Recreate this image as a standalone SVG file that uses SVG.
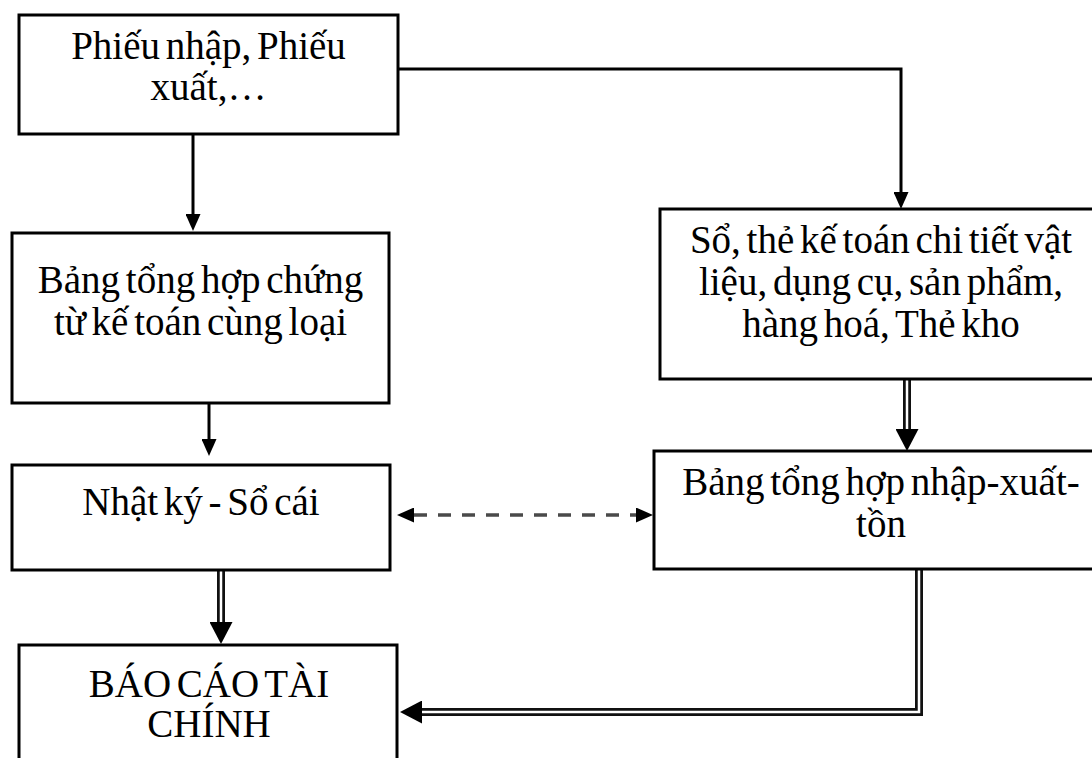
<svg xmlns="http://www.w3.org/2000/svg" width="1092" height="758" viewBox="0 0 1092 758">
  <style>
    .box { fill: #fff; stroke: #000; stroke-width: 3; }
    .lbl { font-family: "Liberation Serif", "Times New Roman", serif; font-size: 39px; word-spacing: -4px; fill: #000; text-anchor: middle; }
    .line { fill: none; stroke: #000; stroke-width: 3; }
    .dash { fill: none; stroke: #4a4a4a; stroke-width: 3.5; stroke-dasharray: 13 11; }
    .dbl-out { fill: none; stroke: #111; stroke-width: 8; stroke-linejoin: miter; }
    .dbl-in { fill: none; stroke: #fff; stroke-width: 2.5; stroke-linejoin: miter; }
  </style>
  <defs>
    <marker id="arr" markerUnits="userSpaceOnUse" markerWidth="17" markerHeight="15" refX="0" refY="7.5" orient="auto-start-reverse">
      <path d="M0,0 L17,7.5 L0,15 z" fill="#000"/>
    </marker>
    <marker id="arrBig" markerUnits="userSpaceOnUse" markerWidth="22" markerHeight="23" refX="0" refY="11.5" orient="auto">
      <path d="M0,0 L22,11.5 L0,23 z" fill="#000"/>
    </marker>
  </defs>

  <!-- connectors -->
  <g id="connectors">
    <!-- source documents to summary table -->
    <path class="line" d="M193,134 V214" marker-end="url(#arr)"/>
    <!-- source documents to detail ledgers -->
    <path class="line" d="M398,69 H901 V192" marker-end="url(#arr)"/>
    <!-- summary table to journal ledger -->
    <path class="line" d="M209,403 V439" marker-end="url(#arr)"/>
    <!-- reconciliation between journal ledger and stock summary -->
    <path class="dash" d="M414,515 H636" marker-start="url(#arr)" marker-end="url(#arr)"/>
    <!-- journal ledger to financial report (double line) -->
    <path class="dbl-out" d="M221,570 V622" marker-end="url(#arrBig)"/>
    <path class="dbl-in" d="M221,570 V622"/>
    <!-- detail ledgers to stock summary (double line) -->
    <path class="dbl-out" d="M907,379 V429" marker-end="url(#arrBig)"/>
    <path class="dbl-in" d="M907,379 V429"/>
    <!-- stock summary to financial report (double line) -->
    <path class="dbl-out" d="M919,569 V712 H422" marker-end="url(#arrBig)"/>
    <path class="dbl-in" d="M919,569 V712 H422"/>
  </g>

  <g id="phieu">
    <rect class="box" x="19" y="15" width="379" height="119"/>
    <text class="lbl" x="208.5" y="59">Phiếu nhập, Phiếu</text>
    <text class="lbl" x="208.5" y="100">xuất,…</text>
  </g>

  <g id="bang-tong-hop-chung-tu">
    <rect class="box" x="12" y="233" width="377" height="170"/>
    <text class="lbl" x="200.5" y="293">Bảng tổng hợp chứng</text>
    <text class="lbl" x="200.5" y="335">từ kế toán cùng loại</text>
  </g>

  <g id="so-the-chi-tiet">
    <rect class="box" x="660" y="209" width="440" height="170"/>
    <text class="lbl" x="881" y="253">Sổ, thẻ kế toán chi tiết vật</text>
    <text class="lbl" x="881" y="295">liệu, dụng cụ, sản phẩm,</text>
    <text class="lbl" x="881" y="337">hàng hoá, Thẻ kho</text>
  </g>

  <g id="bang-nhap-xuat-ton">
    <rect class="box" x="654" y="451" width="452" height="118"/>
    <text class="lbl" x="881" y="495">Bảng tổng hợp nhập-xuất-</text>
    <text class="lbl" x="881" y="537">tồn</text>
  </g>

  <g id="nhat-ky-so-cai">
    <rect class="box" x="12" y="465" width="378" height="105"/>
    <text class="lbl" x="201" y="515">Nhật ký - Sổ cái</text>
  </g>

  <g id="bao-cao-tai-chinh">
    <rect class="box" x="19" y="645" width="378" height="130"/>
    <text class="lbl" x="209" y="697">BÁO CÁO TÀI</text>
    <text class="lbl" x="209" y="737">CHÍNH</text>
  </g>
</svg>
